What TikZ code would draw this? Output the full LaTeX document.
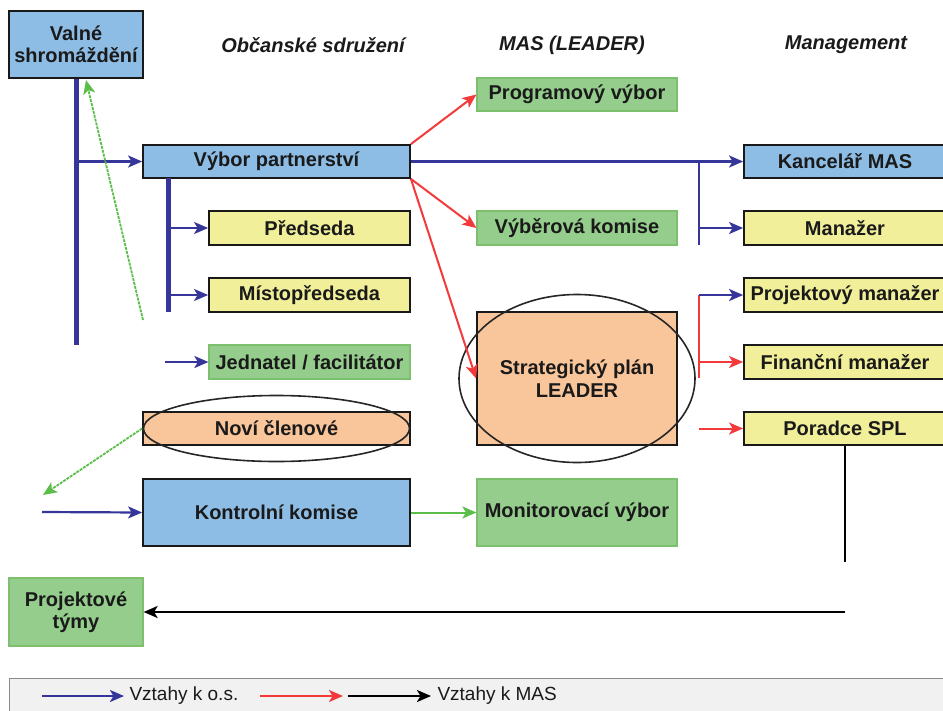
\documentclass[tikz,border=0pt]{standalone}
\usepackage{fontspec}
\setmainfont{Liberation Sans}
\usetikzlibrary{arrows.meta}
\definecolor{bfill}{HTML}{8DBDE5}
\definecolor{yfill}{HTML}{F2EF9A}
\definecolor{ofill}{HTML}{F9C59A}
\definecolor{gfill}{HTML}{95CD8C}
\definecolor{gborder}{HTML}{7CC06E}
\definecolor{lblue}{HTML}{35359A}
\definecolor{lred}{HTML}{F23A3A}
\definecolor{lgreen}{HTML}{5BBE4A}
\definecolor{legfill}{HTML}{F0F1F0}
\definecolor{legborder}{HTML}{8A8A8A}
\definecolor{txt}{HTML}{1A1A1A}
\begin{document}
\begin{tikzpicture}[x=1pt,y=-1pt,
  box/.style={rectangle, inner sep=0pt, align=center, text=txt,
    font=\fontsize{20}{22.5}\selectfont\bfseries},
  bluebox/.style={box, draw=black!90, line width=1.8pt, fill=bfill},
  yelbox/.style={box, draw=black!90, line width=1.8pt, fill=yfill},
  orgbox/.style={box, draw=black!90, line width=1.8pt, fill=ofill},
  grnbox/.style={box, draw=gborder, line width=1.2pt, fill=gfill},
  header/.style={text=txt, font=\fontsize{20}{22}\selectfont\bfseries\itshape},
  tip/.style={-{Stealth[length=14pt,width=12pt,inset=3.5pt]}},
  bluearrow/.style={tip, draw=lblue, fill=lblue, line width=2.2pt},
  redarrow/.style={tip, draw=lred, fill=lred, line width=2pt},
  greenarrow/.style={tip, draw=lgreen, fill=lgreen, line width=2pt},
  blackarrow/.style={tip, draw=black, fill=black, line width=2.2pt},
  greendash/.style={-{Stealth[length=14pt,width=12pt,inset=3.5pt,fill=lgreen]}, draw=lgreen, line width=1.8pt, dash pattern=on 3pt off 1pt},
  thickblue/.style={draw=lblue, line width=5pt},
  thinblue/.style={draw=lblue, line width=2.2pt},
  thinred/.style={draw=lred, line width=2pt},
  thinblack/.style={draw=black, line width=2.2pt},
  ring/.style={draw=black!85, line width=1.6pt},
  legtext/.style={text=txt, anchor=west, font=\fontsize{19}{21}\selectfont}
]
\useasboundingbox (0,0) rectangle (943,710);
\clip (0,0) rectangle (943,710);

% headers
\node[header] (h1) at (313,45) {Občanské sdružení};
\node[header] (h2) at (572,45) {MAS (LEADER)};
\node[header] (h3) at (846,45) {Management};

% left column
\node[bluebox, minimum width=134, minimum height=67] (valne) at (76,44.5) {Valné\\shromáždění};
\node[bluebox, minimum width=267, minimum height=33] (vybor) at (276.5,161.5) {Výbor partnerství};
\node[yelbox, minimum width=201, minimum height=34] (predseda) at (309.5,228) {Předseda};
\node[yelbox, minimum width=201, minimum height=34] (misto) at (309.5,295) {Místopředseda};
\node[grnbox, minimum width=201, minimum height=34] (jednatel) at (309.5,362) {Jednatel / facilitátor};
\node[orgbox, minimum width=267, minimum height=33] (novi) at (276.5,428.5) {Noví členové};
\node[bluebox, minimum width=267, minimum height=67] (kontrol) at (276.5,512.5) {Kontrolní komise};
\node[grnbox, minimum width=134, minimum height=68] (tymy) at (76,612) {Projektové\\týmy};

% middle column
\node[grnbox, minimum width=200, minimum height=33] (program) at (577,94.5) {Programový výbor};
\node[grnbox, minimum width=200, minimum height=34] (vyber) at (577,228) {Výběrová komise};
\node[orgbox, minimum width=200, minimum height=133] (strat) at (577,378.5) {Strategický plán\\LEADER};
\node[grnbox, minimum width=200, minimum height=67] (monitor) at (577,512.5) {Monitorovací výbor};

% right column
\node[bluebox, minimum width=202, minimum height=33] (kancelar) at (845,161.5) {Kancelář MAS};
\node[yelbox, minimum width=202, minimum height=34] (manazer) at (845,228) {Manažer};
\node[yelbox, minimum width=202, minimum height=34] (projman) at (845,295) {Projektový manažer};
\node[yelbox, minimum width=202, minimum height=34] (finman) at (845,362) {Finanční manažer};
\node[yelbox, minimum width=202, minimum height=33] (poradce) at (845,428.5) {Poradce SPL};

% ellipses
\draw[ring] (novi.center) ellipse [x radius=133, y radius=33];
\draw[ring] (strat.center) ellipse [x radius=118, y radius=84];

% coordinates
\coordinate (vsEnd) at (76,345);
\coordinate (vpBar) at (168,178);
\coordinate (vpEnd) at (168,312);
\coordinate (jStart) at (165,362);
\coordinate (gStart) at (143,320);
\coordinate (gEnd) at (86,80);
\coordinate (nEnd) at (43,495);
\coordinate (kStart) at (42,512);
\coordinate (mBar) at (699,161.5);
\coordinate (mEnd) at (699,245);
\coordinate (rTop) at (699,295);
\coordinate (rBot) at (699,378);
\coordinate (rPor) at (699,428.5);
\coordinate (pEnd) at (845,562);
\coordinate (tStart) at (845,612);

% left connectors
\draw[thickblue] (valne.south) -- (vsEnd);
\draw[bluearrow] (valne.south |- vybor.west) -- (vybor.west);
\draw[thickblue] (vpBar) -- (vpEnd);
\draw[bluearrow] (vpBar |- predseda.west) -- (predseda.west);
\draw[bluearrow] (vpBar |- misto.west) -- (misto.west);
\draw[bluearrow] (jStart) -- (jednatel.west);
\draw[greendash] (gStart) -- (gEnd);
\draw[greendash] (novi.west) -- (nEnd);
\draw[bluearrow] (kStart) -- (kontrol.west);
\draw[greenarrow] (kontrol.east) -- (monitor.west);

% red from vybor
\draw[redarrow] (vybor.north east) -- (program.west);
\draw[redarrow] (vybor.south east) -- (vyber.west);
\draw[redarrow] (vybor.south east) -- (strat.west);

% right connectors
\draw[bluearrow] (vybor.east) -- (kancelar.west);
\draw[thinblue] (mBar) -- (mEnd);
\draw[bluearrow] (mBar |- manazer.west) -- (manazer.west);
\draw[thinred] (rTop) -- (rBot);
\draw[bluearrow] (rTop) -- (projman.west);
\draw[redarrow] (rTop |- finman.west) -- (finman.west);
\draw[redarrow] (rPor) -- (poradce.west);
\draw[thinblack] (poradce.south) -- (pEnd);
\draw[blackarrow] (tStart) -- (tymy.east);

% legend
\node[draw=legborder, fill=legfill, line width=1pt, minimum width=937, minimum height=34, inner sep=0pt] (legend) at (477.5,695) {};
\coordinate (l1a) at (42,696);
\coordinate (l1b) at (124,696);
\coordinate (l2a) at (260,696);
\coordinate (l2b) at (343,696);
\coordinate (l3a) at (348,696);
\coordinate (l3b) at (431,696);
\draw[bluearrow] (l1a) -- (l1b);
\node[legtext] (lt1) at (126,696) {Vztahy k o.s.};
\draw[redarrow] (l2a) -- (l2b);
\draw[blackarrow] (l3a) -- (l3b);
\node[legtext] (lt2) at (434,696) {Vztahy k MAS};
\end{tikzpicture}
\end{document}
